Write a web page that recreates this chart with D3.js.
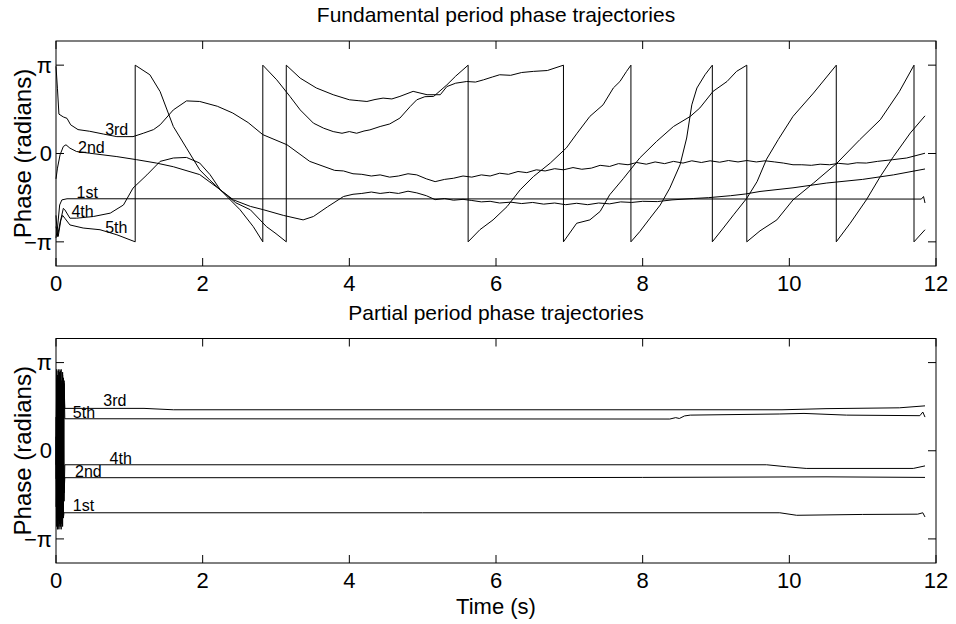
<!DOCTYPE html>
<html>
<head>
<meta charset="utf-8">
<script src="https://cdn.jsdelivr.net/npm/d3@7"></script>
<style>
  body { margin: 0; background: #fff; }
  text { font-family: "Liberation Sans", Arial, Helvetica, sans-serif; fill: #000; }
</style>
</head>
<body>
<div id="my_dataviz"></div>
<script>
var width = 956
var height = 624

// tick values and labels
var xTicks = [0, 2, 4, 6, 8, 10, 12]
var yTicks = [-Math.PI, 0, Math.PI]
var yTickLabels = ["\u2212\u03c0", "0", "\u03c0"]
var harmonicNames = ["1st", "2nd", "3rd", "4th", "5th"]

// fundamental period phase trajectories: [time (s), phase (rad)]
var fund1st = [[0,-3.0],[0.02,-2.65],[0.05,-1.83],[0.08,-1.65],[0.15,-1.61],[11.8,-1.62],[11.83,-1.53],[11.85,-1.76]]
var fund2nd = [[0,-0.9],[0.02,-0.52],[0.055,-0.05],[0.1,0.25],[0.136,0.31],[0.19,0.19],[0.28,0.07],[0.46,0.01],[0.83,-0.11],[1.1,-0.22],[1.37,-0.34],[1.6,-0.47],[1.96,-0.75],[2.24,-1.29],[2.42,-1.65],[2.65,-1.88],[2.83,-2.0],[3.1,-2.2],[3.37,-2.36],[3.51,-2.24],[3.7,-1.9],[3.92,-1.53],[4.05,-1.45],[4.17,-1.42],[4.3,-1.37],[4.42,-1.42],[4.55,-1.38],[4.67,-1.42],[4.8,-1.34],[4.92,-1.4],[5.05,-1.5],[5.17,-1.64],[5.3,-1.6],[5.42,-1.66],[5.55,-1.63],[5.67,-1.67],[5.8,-1.72],[5.92,-1.7],[6.05,-1.76],[6.2,-1.73],[6.35,-1.78],[6.5,-1.74],[6.65,-1.8],[6.8,-1.76],[6.95,-1.82],[7.1,-1.77],[7.25,-1.82],[7.4,-1.76],[7.55,-1.79],[7.7,-1.72],[7.85,-1.74],[8.0,-1.7],[8.2,-1.71],[8.4,-1.65],[8.69,-1.6],[8.9,-1.57],[9.2,-1.5],[9.4,-1.44],[9.6,-1.35],[10.05,-1.22],[10.51,-1.05],[11.0,-0.92],[11.42,-0.76],[11.85,-0.55]]
var fund3rd = [[0,3.1],[0.02,2.3],[0.04,1.4],[0.1,1.3],[0.15,1.25],[0.2,1.02],[0.3,0.85],[0.46,0.79],[0.65,0.69],[0.83,0.6],[1.05,0.6],[1.19,0.72],[1.33,0.85],[1.42,1.02],[1.6,1.55],[1.78,1.87],[1.96,1.85],[2.2,1.68],[2.41,1.44],[2.62,1.1],[2.82,0.67],[3.15,0.31],[3.46,-0.28],[3.8,-0.6],[3.92,-0.62],[4.05,-0.72],[4.17,-0.74],[4.3,-0.8],[4.42,-0.76],[4.55,-0.84],[4.67,-0.8],[4.8,-0.72],[4.92,-0.76],[5.05,-0.9],[5.17,-1.0],[5.3,-0.92],[5.42,-0.88],[5.55,-0.8],[5.67,-0.84],[5.8,-0.76],[5.92,-0.8],[6.05,-0.7],[6.17,-0.74],[6.3,-0.64],[6.42,-0.68],[6.55,-0.58],[6.67,-0.62],[6.8,-0.54],[6.92,-0.58],[7.05,-0.5],[7.17,-0.56],[7.3,-0.52],[7.42,-0.42],[7.55,-0.46],[7.67,-0.36],[7.8,-0.4],[7.92,-0.32],[8.05,-0.38],[8.17,-0.3],[8.3,-0.36],[8.42,-0.28],[8.55,-0.34],[8.67,-0.26],[8.8,-0.32],[8.92,-0.26],[9.05,-0.31],[9.17,-0.25],[9.3,-0.3],[9.42,-0.25],[9.55,-0.3],[9.67,-0.26],[9.8,-0.3],[9.92,-0.34],[10.05,-0.4],[10.17,-0.4],[10.3,-0.42],[10.42,-0.38],[10.55,-0.4],[10.67,-0.35],[10.8,-0.38],[10.92,-0.33],[11.05,-0.34],[11.2,-0.28],[11.41,-0.22],[11.6,-0.16],[11.85,0.01]]
var fund4th = [[0,-2.6],[0.03,-2.95],[0.07,-2.3],[0.1,-1.95],[0.12,-2.0],[0.19,-2.3],[0.28,-2.3],[0.51,-2.24],[0.74,-2.12],[0.92,-1.83],[1.05,-1.23],[1.24,-0.76],[1.42,-0.28],[1.6,-0.16],[1.78,-0.14],[1.96,-0.34],[2.1,-0.75],[2.24,-1.29],[2.45,-1.75],[2.65,-2.0],[2.87,-2.6],[3.0,-2.85],[3.14,-3.14],[3.14,3.14],[3.33,2.68],[3.55,2.33],[3.78,2.09],[4.0,1.91],[4.12,1.88],[4.24,1.85],[4.35,1.92],[4.46,1.97],[4.58,1.94],[4.69,2.03],[4.87,2.21],[5.06,2.09],[5.24,2.09],[5.33,2.38],[5.45,2.5],[5.6,2.56],[5.72,2.54],[5.83,2.62],[5.95,2.72],[6.05,2.8],[6.2,2.78],[6.35,2.88],[6.51,2.92],[6.7,2.95],[6.92,3.14],[6.92,-3.14],[7.1,-2.48],[7.28,-2.36],[7.42,-2.06],[7.55,-1.47],[7.74,-0.88],[7.96,-0.16],[8.19,0.43],[8.42,0.96],[8.65,1.32],[8.78,1.62],[8.96,2.21],[9.15,2.56],[9.28,2.92],[9.42,3.14],[9.42,-3.14],[9.6,-2.75],[9.83,-2.36],[10.05,-1.65],[10.33,-1.05],[10.65,-0.34],[10.96,0.49],[11.24,1.2],[11.5,2.2],[11.7,3.14],[11.7,-3.14],[11.85,-2.71]]
var fund5th = [[0,-2.2],[0.02,-2.95],[0.06,-2.4],[0.09,-2.2],[0.12,-2.3],[0.19,-2.54],[0.37,-2.65],[0.6,-2.71],[0.83,-2.89],[1.08,-3.14],[1.08,3.14],[1.28,2.8],[1.42,2.2],[1.6,0.96],[1.78,0.19],[1.96,-0.58],[2.1,-0.95],[2.24,-1.29],[2.51,-2.0],[2.69,-2.6],[2.82,-3.14],[2.82,3.14],[3.01,2.62],[3.19,2.03],[3.33,1.55],[3.51,1.08],[3.65,0.9],[3.78,0.78],[3.9,0.72],[4.0,0.78],[4.1,0.72],[4.2,0.8],[4.28,0.84],[4.42,0.96],[4.55,1.05],[4.69,1.26],[4.83,1.67],[4.92,1.91],[5.03,2.02],[5.15,2.03],[5.33,2.44],[5.45,2.75],[5.62,3.14],[5.62,-3.14],[5.78,-2.71],[5.96,-2.36],[6.15,-1.89],[6.33,-1.29],[6.51,-0.82],[6.74,-0.34],[6.96,0.2],[7.1,0.7],[7.28,1.32],[7.46,1.73],[7.6,2.33],[7.69,2.56],[7.78,2.92],[7.84,3.14],[7.84,-3.14],[7.96,-2.78],[8.1,-2.3],[8.24,-1.83],[8.37,-1.23],[8.51,-0.4],[8.6,0.55],[8.67,1.73],[8.74,2.33],[8.85,2.8],[8.95,3.14],[8.95,-3.14],[9.1,-2.65],[9.24,-2.18],[9.42,-1.59],[9.56,-1.0],[9.69,-0.2],[9.85,0.5],[10.05,1.32],[10.33,2.15],[10.64,3.14],[10.64,-3.14],[10.83,-2.48],[11.05,-1.65],[11.24,-0.82],[11.42,-0.11],[11.65,0.73],[11.85,1.34]]

// partial period phase trajectories: [time (s), phase (rad)]
var part1st = [[0,-1.0],[0.01,2.6],[0.02,-2.5],[0.03,2.2],[0.04,-2.7],[0.05,2.8],[0.06,-2.2],[0.07,2.4],[0.08,-2.6],[0.09,1.8],[0.1,-2.4],[0.11,-2.2],[0.12,-2.21],[5,-2.21],[9.87,-2.21],[10.1,-2.3],[11.0,-2.27],[11.75,-2.26],[11.82,-2.21],[11.85,-2.36]]
var part2nd = [[0,0.5],[0.01,-2.4],[0.02,2.7],[0.03,-2.1],[0.04,2.9],[0.05,-2.6],[0.06,2.5],[0.07,-2.8],[0.08,2.3],[0.09,-2.0],[0.1,2.6],[0.11,-1.5],[0.12,-0.96],[6,-0.96],[8,-0.95],[10.5,-0.93],[11.85,-0.95]]
var part3rd = [[0,-0.5],[0.01,2.9],[0.02,-2.3],[0.03,2.5],[0.04,-2.8],[0.05,2.2],[0.06,-2.5],[0.07,2.9],[0.08,-1.9],[0.09,2.7],[0.1,-2.2],[0.11,2.4],[0.12,1.51],[1.2,1.51],[1.6,1.46],[9.9,1.46],[10.5,1.5],[11.5,1.53],[11.85,1.6]]
var part4th = [[0,1.2],[0.01,-2.7],[0.02,2.4],[0.03,-2.5],[0.04,2.6],[0.05,-2.3],[0.06,2.85],[0.07,-2.4],[0.08,2.5],[0.09,-2.7],[0.1,2.0],[0.11,-1.8],[0.12,-0.5],[9.69,-0.5],[9.96,-0.57],[10.23,-0.63],[11.69,-0.63],[11.85,-0.54]]
var part5th = [[0,-2.0],[0.01,2.2],[0.02,-2.8],[0.03,2.85],[0.04,-2.0],[0.05,2.6],[0.06,-2.7],[0.07,2.1],[0.08,-2.5],[0.09,2.8],[0.1,-2.3],[0.11,2.5],[0.12,1.14],[8.37,1.13],[8.45,1.18],[8.5,1.15],[8.57,1.24],[8.65,1.27],[9.87,1.31],[10.2,1.33],[10.78,1.27],[11.78,1.25],[11.82,1.38],[11.85,1.2]]

// where each harmonic's name is written (time, phase), order 1st..5th
var fundLabelT = [0.28, 0.30, 0.67, 0.21, 0.67]
var fundLabelP = [-1.59, 0.01, 0.67, -2.24, -2.83]
var partLabelT = [0.23, 0.26, 0.645, 0.73, 0.23]
var partLabelP = [-2.14, -0.93, 1.61, -0.47, 1.16]


var svg = d3.select("#my_dataviz")
    .append("svg")
    .attr("width", width)
    .attr("height", height)

var x = d3.scaleLinear().domain([0, 12]).range([56, 936])

function drawPanel(top, bottom, title, series, labelT, labelP) {
    var y = d3.scaleLinear().domain([-4, 4]).range([bottom, top])
    var g = svg.append("g")

    var line = d3.line()
        .x(function(d) { return x(d[0]) })
        .y(function(d) { return y(d[1]) })

    // trajectories
    g.selectAll("path.traj")
        .data(series)
        .enter()
        .append("path")
        .attr("class", "traj")
        .attr("d", line)
        .attr("fill", "none")
        .attr("stroke", "#000")
        .attr("stroke-width", 1)
        .attr("stroke-linejoin", "round")

    // harmonic names
    g.selectAll("text.lab")
        .data(harmonicNames)
        .enter()
        .append("text")
        .attr("class", "lab")
        .attr("x", function(d, i) { return x(labelT[i]) })
        .attr("y", function(d, i) { return y(labelP[i]) })
        .style("font-size", "16px")
        .text(function(d) { return d })

    // box
    g.append("rect")
        .attr("x", x(0)).attr("y", top)
        .attr("width", x(12) - x(0)).attr("height", bottom - top)
        .attr("fill", "none").attr("stroke", "#000").attr("stroke-width", 1)

    // inward ticks, bottom/top and left/right
    xTicks.forEach(function(t) {
        g.append("line").attr("x1", x(t)).attr("x2", x(t)).attr("y1", bottom).attr("y2", bottom - 8).attr("stroke", "#000")
        g.append("line").attr("x1", x(t)).attr("x2", x(t)).attr("y1", top).attr("y2", top + 8).attr("stroke", "#000")
        g.append("text")
            .attr("x", x(t)).attr("y", bottom + 24.5)
            .attr("text-anchor", "middle")
            .style("font-size", "22px")
            .text(t)
    })
    yTicks.forEach(function(v, i) {
        g.append("line").attr("x1", x(0)).attr("x2", x(0) + 8).attr("y1", y(v)).attr("y2", y(v)).attr("stroke", "#000")
        g.append("line").attr("x1", x(12)).attr("x2", x(12) - 8).attr("y1", y(v)).attr("y2", y(v)).attr("stroke", "#000")
        g.append("text")
            .attr("x", x(0) - 4).attr("y", y(v))
            .attr("dy", "0.35em")
            .attr("text-anchor", "end")
            .style("font-size", "22px")
            .text(yTickLabels[i])
    })

    // title and y label
    g.append("text")
        .attr("x", (x(0) + x(12)) / 2).attr("y", top - 18.6)
        .attr("text-anchor", "middle")
        .style("font-size", "21px")
        .text(title)
    g.append("text")
        .attr("transform", "translate(31," + y(0) + ") rotate(-90)")
        .attr("text-anchor", "middle")
        .style("font-size", "24px")
        .text("Phase (radians)")
}

drawPanel(41, 266, "Fundamental period phase trajectories", [fund1st, fund2nd, fund3rd, fund4th, fund5th], fundLabelT, fundLabelP)
drawPanel(338.5, 563, "Partial period phase trajectories", [part1st, part2nd, part3rd, part4th, part5th], partLabelT, partLabelP)

svg.append("text")
    .attr("x", (x(0) + x(12)) / 2).attr("y", 613.5)
    .attr("text-anchor", "middle")
    .style("font-size", "22px")
    .text("Time (s)")
</script>
</body>
</html>
